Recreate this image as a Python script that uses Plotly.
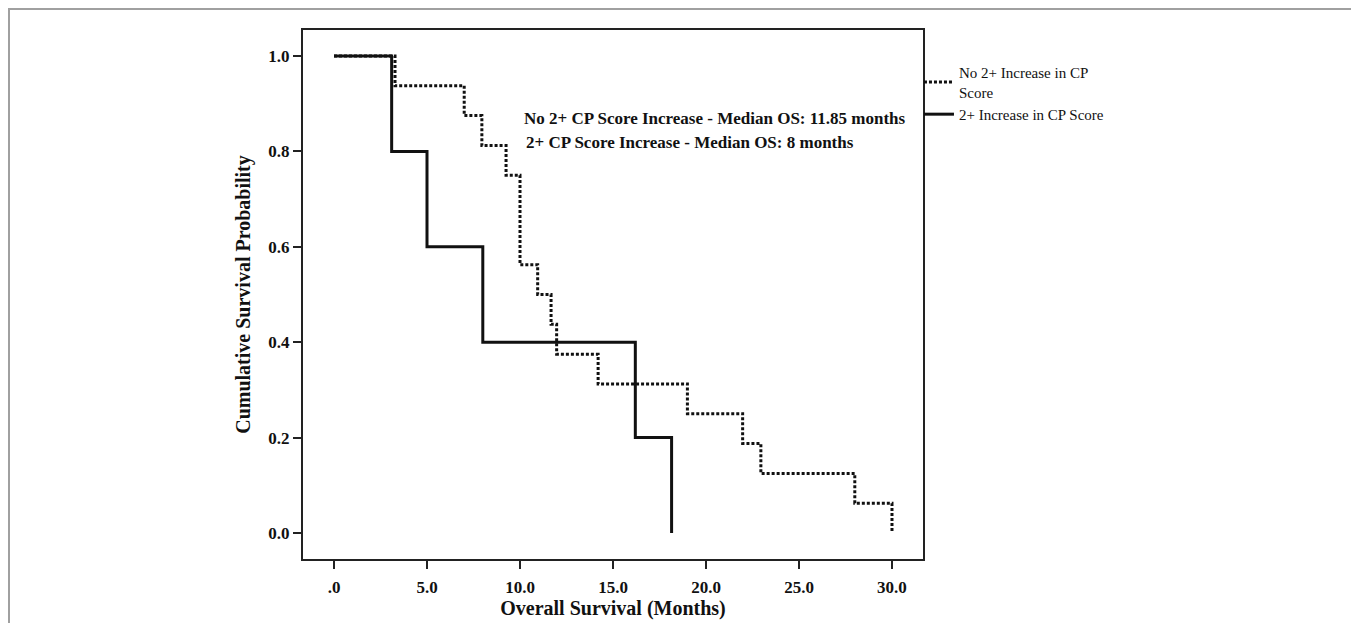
import plotly.graph_objects as go

# ---- data ----
months_no_increase = [0, 3.28, 7.0, 7.95, 9.25, 10.0, 10.95, 11.67, 11.97, 14.2, 19.0, 21.97, 22.95, 28.0, 30.0]
surv_no_increase = [1.0, 0.9375, 0.875, 0.8125, 0.75, 0.5625, 0.5, 0.4375, 0.375, 0.3125, 0.25, 0.1875, 0.125, 0.0625, 0.0]
months_increase = [0, 3.1, 5.0, 8.0, 16.2, 18.15]
surv_increase = [1.0, 0.8, 0.6, 0.4, 0.2, 0.0]

x_tickvals = [0, 5, 10, 15, 20, 25, 30]
x_ticktext = [".0", "5.0", "10.0", "15.0", "20.0", "25.0", "30.0"]
y_tickvals = [0, 0.2, 0.4, 0.6, 0.8, 1.0]
y_ticktext = ["0.0", "0.2", "0.4", "0.6", "0.8", "1.0"]

name_no = "No 2+ Increase in CP<br>Score"
name_inc = "2+ Increase in CP Score"
median_texts = ["No 2+ CP Score Increase - Median OS: 11.85 months",
                "2+ CP Score Increase - Median OS: 8 months"]

FONT = "Liberation Serif, Times New Roman, serif"
INK = "#111111"

fig = go.Figure()
fig.add_trace(go.Scatter(
    x=months_increase, y=surv_increase, mode="lines", line_shape="hv",
    name=name_inc, legendrank=2,
    line=dict(color=INK, width=3)))
fig.add_trace(go.Scatter(
    x=months_no_increase, y=surv_no_increase, mode="lines", line_shape="hv",
    name=name_no, legendrank=1,
    line=dict(color=INK, width=3, dash="3px,2px")))

fig.add_annotation(x=10.1, y=0.868, xref="x", yref="y", xanchor="left", yanchor="middle",
                   text="<b>" + median_texts[0] + "</b>", showarrow=False,
                   font=dict(family=FONT, size=17, color=INK))
fig.add_annotation(x=10.2, y=0.818, xref="x", yref="y", xanchor="left", yanchor="middle",
                   text="<b>" + median_texts[1] + "</b>", showarrow=False,
                   font=dict(family=FONT, size=17, color=INK))

# outer grey frame of the figure image
fig.add_shape(type="rect", xref="paper", yref="paper",
              x0=-0.4742, x1=1.6935, y0=-0.3, y1=1.0397,
              line=dict(color="#a0a0a0", width=2), fillcolor="rgba(0,0,0,0)", layer="below")

fig.update_layout(
    width=1351, height=615,
    margin=dict(l=295, r=436, t=22, b=64),
    paper_bgcolor="white", plot_bgcolor="white",
    font=dict(family=FONT, color=INK),
    showlegend=True,
    legend=dict(x=0.9935, xanchor="left", y=0.951, yanchor="top",
                font=dict(family=FONT, size=15, color=INK),
                bgcolor="rgba(0,0,0,0)", itemwidth=30, tracegroupgap=0),
    xaxis=dict(range=[-1.667, 31.667], tickvals=x_tickvals,
               ticktext=["<b>" + t + "</b>" for t in x_ticktext],
               ticks="outside", ticklen=8, tickwidth=2, tickcolor="#222",
               ticklabelstandoff=4,
               showline=True, linecolor="#222", linewidth=2, mirror=True,
               showgrid=False, zeroline=False, automargin=False,
               tickfont=dict(family=FONT, size=17, color=INK),
               title=dict(text="<b>Overall Survival (Months)</b>",
                          font=dict(family=FONT, size=20, color=INK), standoff=5)),
    yaxis=dict(range=[-0.0545, 1.0545], tickvals=y_tickvals,
               ticktext=["<b>" + t + "</b>" for t in y_ticktext],
               ticks="outside", ticklen=8, tickwidth=2, tickcolor="#222",
               showline=True, linecolor="#222", linewidth=2, mirror=True,
               showgrid=False, zeroline=False, automargin=False,
               tickfont=dict(family=FONT, size=17, color=INK),
               title=dict(text="<b>Cumulative Survival Probability</b>",
                          font=dict(family=FONT, size=20, color=INK), standoff=12)),
)

fig.write_html("out.html")
